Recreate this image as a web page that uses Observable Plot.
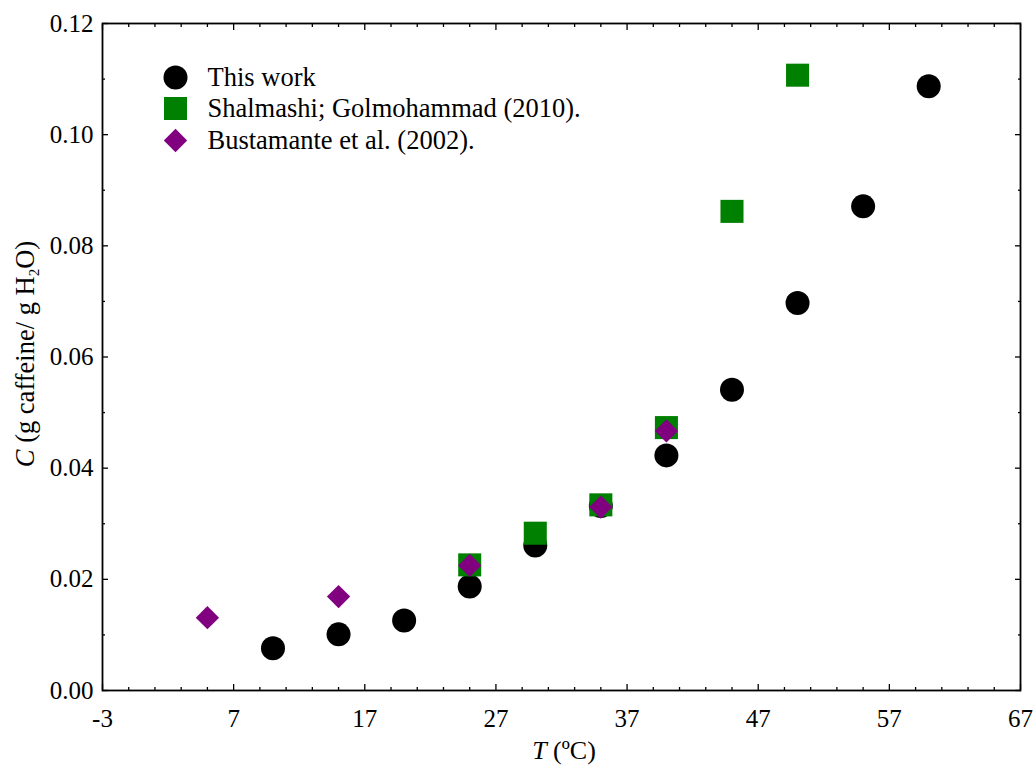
<!DOCTYPE html>
<html>
<head>
<meta charset="utf-8">
<script src="https://cdn.jsdelivr.net/npm/d3@7"></script>
<script src="https://cdn.jsdelivr.net/npm/@observablehq/plot@0.6"></script>
<style>
  html, body { margin: 0; padding: 0; background: #fff; }
</style>
</head>
<body>
<div id="chart"></div>
<script>
// ---- data ----
const thisWorkT = [10, 15, 20, 25, 30, 35, 40, 45, 50, 55, 60];
const thisWorkC = [0.0076, 0.0101, 0.0126, 0.0187, 0.0261, 0.0332, 0.0423, 0.0541, 0.0697, 0.0871, 0.1087];

const shalmashiT = [25, 30, 35, 40, 45, 50];
const shalmashiC = [0.0226, 0.0283, 0.0334, 0.0473, 0.0862, 0.1107];

const bustamanteT = [5, 15, 25, 35, 40];
const bustamanteC = [0.0131, 0.0169, 0.0225, 0.0330, 0.0467];

const seriesNames = ["This work", "Shalmashi; Golmohammad (2010).", "Bustamante et al. (2002)."];
const xTicks = [-3, 7, 17, 27, 37, 47, 57, 67];
const xMinor = d3.range(-3, 67.1, 2).filter(v => !xTicks.includes(v));
const yTicks = [0, 0.02, 0.04, 0.06, 0.08, 0.10, 0.12];
const yMinor = [0.01, 0.03, 0.05, 0.07, 0.09, 0.11];

const toRows = (T, C) => T.map((t, i) => ({T: t, C: C[i]}));
const thisWork = toRows(thisWorkT, thisWorkC);
const shalmashi = toRows(shalmashiT, shalmashiC);
const bustamante = toRows(bustamanteT, bustamanteC);

const FONT = "'Liberation Serif', 'Times New Roman', serif";
const black = "#000000", green = "#008000", purple = "#800080";

const tickStyle = {text: null, label: null, strokeWidth: 1.3};
const legendText = {frameAnchor: "top-left", dx: 105, textAnchor: "start", lineAnchor: "middle", fontSize: 26.5, fill: black};

const chart = Plot.plot({
  width: 1035,
  height: 769,
  marginLeft: 102,
  marginRight: 15,
  marginTop: 23,
  marginBottom: 79,
  style: {fontFamily: FONT, fontSize: "25px", background: "#fff", color: "#000"},
  x: {domain: [-3, 67]},
  y: {domain: [0, 0.12]},
  marks: [
    // inward ticks on all four sides
    Plot.axisX(xTicks, {anchor: "bottom", tickSize: -6, ...tickStyle}),
    Plot.axisX(xTicks, {anchor: "top", tickSize: -6, ...tickStyle}),
    Plot.axisX(xMinor, {anchor: "bottom", tickSize: -3, ...tickStyle}),
    Plot.axisX(xMinor, {anchor: "top", tickSize: -3, ...tickStyle}),
    Plot.axisY(yTicks, {anchor: "left", tickSize: -6, ...tickStyle}),
    Plot.axisY(yTicks, {anchor: "right", tickSize: -6, ...tickStyle}),
    Plot.axisY(yMinor, {anchor: "left", tickSize: -3, ...tickStyle}),
    Plot.axisY(yMinor, {anchor: "right", tickSize: -3, ...tickStyle}),
    // tick labels
    Plot.axisX(xTicks, {anchor: "bottom", tickSize: 0, tickPadding: 19, label: null, tickFormat: d => String(d)}),
    Plot.axisY(yTicks, {anchor: "left", tickSize: 0, tickPadding: 9, label: null, tickFormat: d3.format(".2f")}),
    Plot.frame({stroke: black, strokeWidth: 1.8}),
    // data
    Plot.dot(thisWork, {x: "T", y: "C", r: 12, fill: black, symbol: "circle"}),
    Plot.dot(shalmashi, {x: "T", y: "C", r: 13, fill: green, symbol: "square"}),
    Plot.dot(bustamante, {x: "T", y: "C", r: 10.5, fill: purple, symbol: "diamond2"}),
    // legend
    Plot.dot([seriesNames[0]], {frameAnchor: "top-left", dx: 73, dy: 54, r: 12, fill: black, symbol: "circle"}),
    Plot.dot([seriesNames[1]], {frameAnchor: "top-left", dx: 73, dy: 85, r: 13, fill: green, symbol: "square"}),
    Plot.dot([seriesNames[2]], {frameAnchor: "top-left", dx: 73, dy: 117, r: 10.5, fill: purple, symbol: "diamond2"}),
    Plot.text([seriesNames[0]], {text: d => d, dy: 54, ...legendText}),
    Plot.text([seriesNames[1]], {text: d => d, dy: 85, ...legendText}),
    Plot.text([seriesNames[2]], {text: d => d, dy: 117, ...legendText})
  ]
});

document.getElementById("chart").appendChild(chart);

// axis titles with italic variable and subscript
const svg = d3.select(chart);
const yl = svg.append("text")
  .attr("transform", "translate(34,354) rotate(-90)")
  .attr("text-anchor", "middle")
  .attr("font-family", FONT)
  .attr("font-size", 26.5)
  .attr("fill", black);
yl.append("tspan").attr("font-style", "italic").text("C");
yl.append("tspan").text(" (g caffeine/ g H");
yl.append("tspan").attr("font-size", 15).attr("dy", 5).text("2");
yl.append("tspan").attr("dy", -5).text("O)");

const xl = svg.append("text")
  .attr("x", 564)
  .attr("y", 759)
  .attr("text-anchor", "middle")
  .attr("font-family", FONT)
  .attr("font-size", 26)
  .attr("fill", black);
xl.append("tspan").attr("font-style", "italic").text("T");
xl.append("tspan").text(" (ºC)");
</script>
</body>
</html>
